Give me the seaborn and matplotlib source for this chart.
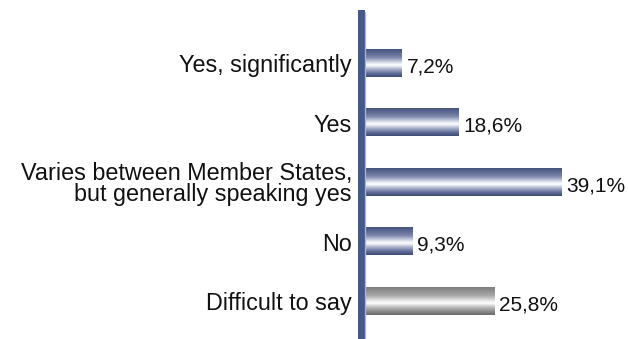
import numpy as np
import matplotlib
matplotlib.use("Agg")
import matplotlib.pyplot as plt
from matplotlib.colors import LinearSegmentedColormap
import seaborn as sns

categories = [
    "Yes, significantly",
    "Yes",
    "Varies between Member States,\nbut generally speaking yes",
    "No",
    "Difficult to say",
]
values = [7.2, 18.6, 39.1, 9.3, 25.8]
bar_tones = ["blue", "blue", "blue", "blue", "grey"]

sns.set_theme(style="white")
plt.rcParams["font.family"] = ["Liberation Sans", "DejaVu Sans"]

W, H, DPI = 628, 339, 100
fig = plt.figure(figsize=(W / DPI, H / DPI), dpi=DPI)
ax = fig.add_axes([357 / W, 0, 1 - 357 / W, (H - 10) / H])

sns.barplot(x=values, y=categories, orient="h", width=0.455, ax=ax,
            color="#4a5888", saturation=1)

# gradient fills: dark edges with a bright band below the middle
blue_cmap = LinearSegmentedColormap.from_list(
    "bluebar",
    [(0.0, "#44527f"), (0.3, "#7c87aa"), (0.5, "#e4e7f0"), (0.58, "#ffffff"),
     (0.72, "#aab2cb"), (0.88, "#5d6a94"), (1.0, "#3e4b76")])
grey_cmap = LinearSegmentedColormap.from_list(
    "greybar",
    [(0.0, "#7e7e7e"), (0.3, "#a8a8a8"), (0.5, "#ececec"), (0.58, "#ffffff"),
     (0.72, "#bdbdbd"), (0.88, "#8a8a8a"), (1.0, "#6c6c6c")])
grad = np.linspace(0, 1, 64).reshape(-1, 1)

for patch, tone in zip(ax.patches, bar_tones):
    x0, y0 = patch.get_x(), patch.get_y()
    w, h = patch.get_width(), patch.get_height()
    patch.set_facecolor("none")
    patch.set_edgecolor("none")
    ax.imshow(grad, cmap=blue_cmap if tone == "blue" else grey_cmap,
              extent=(x0, x0 + w, y0 + h, y0), origin="upper",
              aspect="auto", interpolation="bilinear", zorder=2)

ax.set_xlim(-1.8, (W - 366) / 5)
ax.set_ylim(4.638, -0.90)

for i, v in enumerate(values):
    ax.text(v + 0.9, i + 0.06, f"{v:.1f}".replace(".", ",") + "%",
            va="center", ha="left", fontsize=15, color="#111111")

# axis: heavy blue rule with a thin pale line beside it
ax.axvline(-1.1, ymin=0, ymax=1, lw=7 * 72 / DPI, color="#44598a", zorder=3)
ax.axvline(-0.2, ymin=0, ymax=0.995, lw=1.3 * 72 / DPI, color="#a9b4d0", zorder=3)

for s in ax.spines.values():
    s.set_visible(False)
ax.set_xticks([])
ax.set_xlabel("")
ax.set_ylabel("")
ax.tick_params(axis="y", length=0, pad=3.6)
for lab in ax.get_yticklabels():
    lab.set_fontsize(16.8)
    lab.set_color("#111111")
    lab.set_linespacing(0.88)
    lab.set_horizontalalignment("right")
    lab.set_multialignment("right")

fig.savefig("out.png", dpi=DPI)
